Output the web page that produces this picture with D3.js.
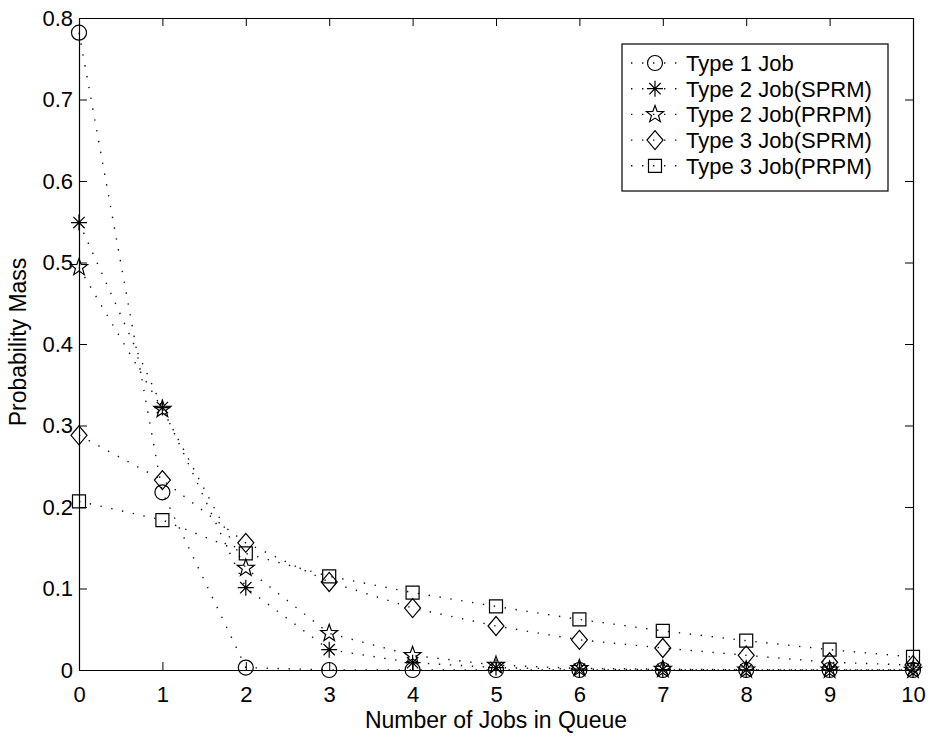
<!DOCTYPE html>
<html>
<head>
<meta charset="utf-8">
<title>Probability Mass vs Number of Jobs in Queue</title>
<style>
  body { margin: 0; background: #fff; }
  svg { display: block; font-family: 'Liberation Sans', Arial, sans-serif; }
  .axis .domain { stroke: #000; stroke-width: 1.2px; }
  .axis .tick line { stroke: #000; stroke-width: 1px; }
  .axis .tick text { font-size: 22px; fill: #000; }
  .series { fill: none; stroke: #111; stroke-width: 1.4px; stroke-dasharray: 1.4, 9.6; }
  .marker { fill: none; stroke: #000; stroke-width: 1.2px; }
  .legend text { font-size: 22px; fill: #000; }
</style>
</head>
<body>
<svg width="930" height="737"></svg>
<script src="https://d3js.org/d3.v7.min.js"></script>
<script>
// values
let jobs = [0, 1, 2, 3, 4, 5, 6, 7, 8, 9, 10]
let type1 = [0.782, 0.218, 0.003, 0, 0, 0, 0, 0, 0, 0, 0]
let type2Sprm = [0.549, 0.322, 0.101, 0.025, 0.009, 0.003, 0.001, 0.0005, 0.0002, 0.0001, 0]
let type2Prpm = [0.494, 0.320, 0.125, 0.045, 0.018, 0.006, 0.002, 0.001, 0.0003, 0.0001, 0]
let type3Sprm = [0.288, 0.233, 0.156, 0.108, 0.076, 0.054, 0.037, 0.027, 0.018, 0.0095, 0.006]
let type3Prpm = [0.207, 0.184, 0.143, 0.115, 0.095, 0.078, 0.062, 0.048, 0.036, 0.025, 0.016]
let labels = ["Type 1 Job", "Type 2 Job(SPRM)", "Type 2 Job(PRPM)", "Type 3 Job(SPRM)", "Type 3 Job(PRPM)"]
let xTicks = [0, 1, 2, 3, 4, 5, 6, 7, 8, 9, 10]
let yTicks = [0, 0.1, 0.2, 0.3, 0.4, 0.5, 0.6, 0.7, 0.8]

let series = [
  { name: labels[0], values: type1, marker: "circle" },
  { name: labels[1], values: type2Sprm, marker: "asterisk" },
  { name: labels[2], values: type2Prpm, marker: "pentagram" },
  { name: labels[3], values: type3Sprm, marker: "diamond" },
  { name: labels[4], values: type3Prpm, marker: "square" }
]

let margin = { top: 18, right: 17, bottom: 67, left: 79 }
let width = 930 - margin.left - margin.right
let height = 737 - margin.top - margin.bottom

let svg = d3.select("svg")
let g = svg.append("g").attr("transform", `translate(${margin.left},${margin.top})`)

let x = d3.scaleLinear().domain([0, 10]).range([0, width])
let y = d3.scaleLinear().domain([0, 0.8]).range([height, 0])

// marker shapes, centred on 0,0
function markerPath(type) {
  let p = d3.path()
  if (type == "circle") {
    p.moveTo(7.5, 0); p.arc(0, 0, 7.5, 0, 2 * Math.PI)
  } else if (type == "asterisk") {
    let r = 8, s = r * Math.SQRT1_2
    p.moveTo(-r, 0); p.lineTo(r, 0)
    p.moveTo(0, -r); p.lineTo(0, r)
    p.moveTo(-s, -s); p.lineTo(s, s)
    p.moveTo(-s, s); p.lineTo(s, -s)
  } else if (type == "pentagram") {
    let ro = 9, ri = 3.7
    for (let i = 0; i < 10; i++) {
      let a = -Math.PI / 2 + i * Math.PI / 5
      let r = i % 2 ? ri : ro
      if (i == 0) p.moveTo(r * Math.cos(a), r * Math.sin(a))
      else p.lineTo(r * Math.cos(a), r * Math.sin(a))
    }
    p.closePath()
  } else if (type == "diamond") {
    p.moveTo(0, -9.5); p.lineTo(8, 0); p.lineTo(0, 9.5); p.lineTo(-8, 0); p.closePath()
  } else if (type == "square") {
    p.rect(-6.5, -6.5, 13, 13)
  }
  return p.toString()
}

// axes, ticks inward on all four sides
let xAxis = g.append("g")
  .attr("class", "axis")
  .attr("transform", `translate(0,${height})`)
  .call(d3.axisBottom(x).tickValues(xTicks).tickSizeInner(-8).tickSizeOuter(0).tickPadding(16).tickFormat(d3.format("d")))

let xTop = g.append("g")
  .attr("class", "axis")
  .call(d3.axisTop(x).tickValues(xTicks).tickSizeInner(-8).tickSizeOuter(0).tickFormat(""))

let yAxis = g.append("g")
  .attr("class", "axis")
  .call(d3.axisLeft(y).tickValues(yTicks).tickSizeInner(-8).tickSizeOuter(0).tickPadding(6).tickFormat(d => d == 0 ? "0" : d3.format(".1f")(d)))

let yRight = g.append("g")
  .attr("class", "axis")
  .attr("transform", `translate(${width},0)`)
  .call(d3.axisRight(y).tickValues(yTicks).tickSizeInner(-8).tickSizeOuter(0).tickFormat(""))

// axis titles
svg.append("text")
  .attr("x", margin.left + width / 2)
  .attr("y", 728)
  .attr("text-anchor", "middle")
  .style("font-size", "23px")
  .text("Number of Jobs in Queue")

svg.append("text")
  .attr("transform", `translate(26,342) rotate(-90)`)
  .attr("text-anchor", "middle")
  .style("font-size", "23px")
  .text("Probability Mass")

// dotted lines and markers
let line = d3.line()
  .x((d, i) => x(jobs[i]))
  .y(d => y(d))

let groups = g.selectAll(".s")
  .data(series)
  .join("g")

groups.append("path")
  .attr("class", "series")
  .attr("d", d => line(d.values))

groups.each(function (s) {
  d3.select(this).selectAll(".marker")
    .data(s.values)
    .join("path")
    .attr("class", "marker")
    .attr("transform", (d, i) => `translate(${x(jobs[i])},${y(d)})`)
    .attr("d", markerPath(s.marker))
})

// legend
let legend = svg.append("g").attr("class", "legend")
let lx = 622, ly = 44, lw = 266, lh = 147

legend.append("rect")
  .attr("x", lx).attr("y", ly)
  .attr("width", lw).attr("height", lh)
  .attr("fill", "#fff").attr("stroke", "#000").attr("stroke-width", 1.2)

let rows = legend.selectAll(".row")
  .data(series)
  .join("g")
  .attr("transform", (d, i) => `translate(${lx},${ly + 19 + i * 25.7})`)

rows.append("line")
  .attr("class", "series")
  .attr("x1", 9).attr("x2", 58)
  .attr("y1", 0).attr("y2", 0)

rows.append("path")
  .attr("class", "marker")
  .attr("transform", "translate(33,0)")
  .attr("d", d => markerPath(d.marker))

rows.append("text")
  .attr("x", 64)
  .attr("dy", "0.36em")
  .text(d => d.name)
</script>
</body>
</html>
